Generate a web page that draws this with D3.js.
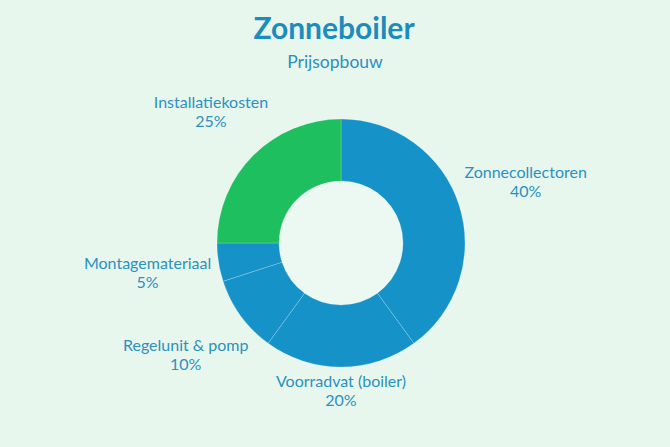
<!DOCTYPE html>
<html>
<head>
<meta charset="utf-8">
<script src="https://cdn.jsdelivr.net/npm/d3@7"></script>
<style>
  html, body { margin: 0; padding: 0; background: #e8f7ee; }
  svg { display: block; font-family: Lato, "Open Sans", sans-serif; }
</style>
</head>
<body>
<div id="chart"></div>
<script>
// Data
const categories = ["Zonnecollectoren", "Voorradvat (boiler)", "Regelunit & pomp", "Montagemateriaal", "Installatiekosten"];
const shares = [40, 20, 10, 5, 25];
const sliceColors = ["#1592c8", "#1592c8", "#1592c8", "#1592c8", "#1dbf5f"];

const width = 670;
const height = 447;
const cx = 341, cy = 243;
const outerRadius = 124;
const innerRadius = 62;
const labelRadius = 130;
const lineGap = 19;

const svg = d3.select("#chart")
    .append("svg")
    .attr("width", width)
    .attr("height", height);

svg.append("rect")
    .attr("width", width)
    .attr("height", height)
    .attr("fill", "#e8f7ee");

// Title and subtitle
svg.append("text")
    .attr("x", 334)
    .attr("y", 39)
    .attr("text-anchor", "middle")
    .style("font-size", "30px")
    .style("font-weight", "bold")
    .style("fill", "#1c8cbd")
    .text("Zonneboiler");

svg.append("text")
    .attr("x", 335)
    .attr("y", 68)
    .attr("text-anchor", "middle")
    .style("font-size", "17.5px")
    .style("fill", "#2a8fbe")
    .text("Prijsopbouw");

const data = categories.map((c, i) => ({ category: c, value: shares[i], color: sliceColors[i] }));

const pie = d3.pie()
    .value(d => d.value)
    .sort(null);

const arc = d3.arc()
    .innerRadius(innerRadius)
    .outerRadius(outerRadius);

const g = svg.append("g")
    .attr("transform", `translate(${cx},${cy})`);

// inner hole slightly lighter than background
g.append("circle")
    .attr("r", innerRadius)
    .attr("fill", "#ecf9f2");

g.selectAll("path")
    .data(pie(data))
    .enter()
    .append("path")
    .attr("d", arc)
    .attr("fill", d => d.data.color)
    .attr("stroke", "rgba(255,255,255,0.25)")
    .attr("stroke-width", 0.8);

// Labels: box center pushed out along the mid angle so the box clears the ring
const labels = g.selectAll(".label")
    .data(pie(data))
    .enter()
    .append("g")
    .attr("class", "label");

labels.each(function(d) {
    const el = d3.select(this);
    const t1 = el.append("text")
        .attr("text-anchor", "middle")
        .attr("y", -5)
        .style("font-size", "16px")
        .style("fill", "#2b91c0")
        .text(d.data.category);
    el.append("text")
        .attr("text-anchor", "middle")
        .attr("y", -5 + lineGap)
        .style("font-size", "16px")
        .style("fill", "#2b91c0")
        .text(d.value + "%");

    const w = t1.node().getComputedTextLength();
    const h = 2 * lineGap;
    const a = (d.startAngle + d.endAngle) / 2;
    const dx = Math.sin(a), dy = -Math.cos(a);
    const dist = labelRadius + Math.abs(dx) * w / 2 + Math.abs(dy) * h / 2;
    el.attr("transform", `translate(${dx * dist},${dy * dist})`);
});
</script>
</body>
</html>
